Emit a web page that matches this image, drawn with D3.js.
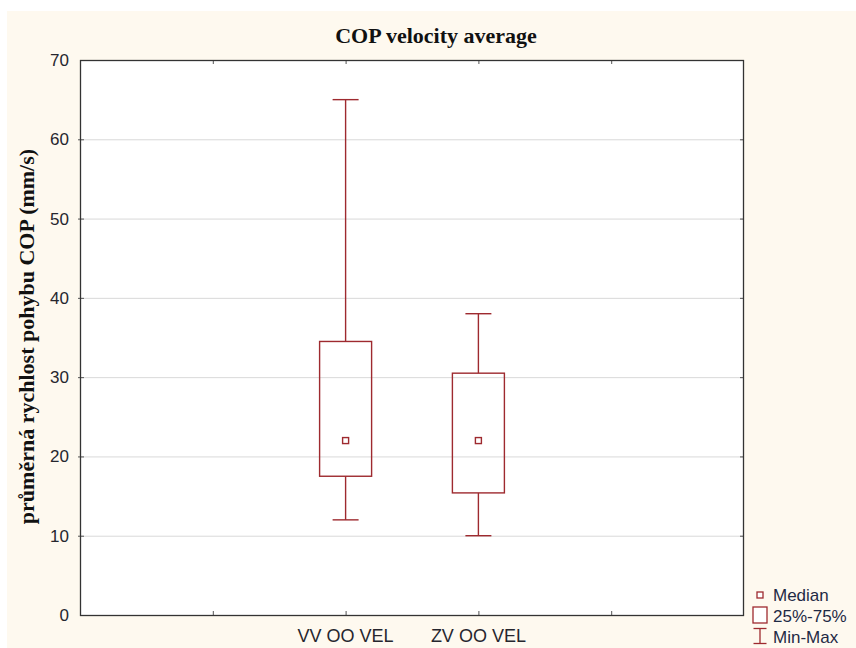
<!DOCTYPE html>
<html>
<head>
<meta charset="utf-8">
<script src="https://cdn.jsdelivr.net/npm/d3@7"></script>
<style>
  html, body { margin: 0; padding: 0; background: #ffffff; }
  svg { display: block; }
</style>
</head>
<body>
<svg id="chart" width="856" height="648"></svg>
<script>
// Box-plot data: one entry per variable
const categories = ["VV OO VEL", "ZV OO VEL"];
const minValues    = [12, 10];
const q1Values     = [17.5, 15.4];
const medianValues = [22, 22];
const q3Values     = [34.5, 30.5];
const maxValues    = [65, 38];
const yTicks = [0, 10, 20, 30, 40, 50, 60, 70];
const legendLabels = ["Median", "25%-75%", "Min-Max"];

const W = 856, H = 648;
const margin = { left: 80, right: 112, top: 60, bottom: 33 };
const plotL = margin.left, plotR = W - margin.right;
const plotT = margin.top, plotB = H - margin.bottom;

const markColor = "#9E2A2F";
const textColor = "#26262e";
const sans = "Liberation Sans, Arial, sans-serif";
const serif = "Liberation Serif, Times New Roman, serif";

const svg = d3.select("#chart");

// Panel background
svg.append("rect").attr("x", 7).attr("y", 11).attr("width", W - 7).attr("height", H - 11)
  .attr("fill", "#fef9ef");

// Plot area
svg.append("rect").attr("x", plotL).attr("y", plotT)
  .attr("width", plotR - plotL).attr("height", plotB - plotT).attr("fill", "#ffffff");

const y = d3.scaleLinear().domain([0, 70]).range([plotB, plotT]);
// Category positions: 5 equal slots, variables in the middle ones
const slots = d3.range(6);
const xs = d3.scalePoint().domain(slots).range([plotL, plotR]);
const catPos = i => xs(i + 2);

// Horizontal grid lines
svg.append("g").selectAll("line").data(yTicks.filter(v => v > 0 && v < 70)).join("line")
  .attr("x1", plotL).attr("x2", plotR)
  .attr("y1", d => y(d) + 0.5).attr("y2", d => y(d) + 0.5)
  .attr("stroke", "#d9d9d9").attr("stroke-width", 1);

// Y axis labels
const yAxis = d3.axisLeft(y).tickValues(yTicks).tickSize(0).tickPadding(11);
const gy = svg.append("g").attr("transform", `translate(${plotL},0)`).call(yAxis);
gy.select(".domain").remove();
gy.selectAll("text").attr("font-family", sans)
  .attr("font-size", 17).attr("fill", textColor);

// Small inward ticks on all four sides
const tickG = svg.append("g").attr("stroke", "#555").attr("stroke-width", 1);
yTicks.filter(v => v > 0 && v < 70).forEach(v => {
  tickG.append("line").attr("x1", plotL - 2).attr("x2", plotL + 4)
    .attr("y1", y(v) + 0.5).attr("y2", y(v) + 0.5);
  tickG.append("line").attr("x1", plotR - 4).attr("x2", plotR)
    .attr("y1", y(v) + 0.5).attr("y2", y(v) + 0.5);
});
[1, 2, 3, 4].forEach(s => {
  tickG.append("line").attr("x1", xs(s) + 0.5).attr("x2", xs(s) + 0.5)
    .attr("y1", plotT).attr("y2", plotT + 4);
  tickG.append("line").attr("x1", xs(s) + 0.5).attr("x2", xs(s) + 0.5)
    .attr("y1", plotB).attr("y2", plotB - 4);
});

// X category labels
svg.append("g").selectAll("text").data(categories).join("text")
  .attr("x", (d, i) => catPos(i)).attr("y", plotB + 27)
  .attr("text-anchor", "middle")
  .attr("font-family", sans).attr("font-size", 18)
  .attr("fill", textColor).text(d => d);

// Plot frame
svg.append("rect").attr("x", plotL + 0.5).attr("y", plotT + 0.5)
  .attr("width", plotR - plotL - 1).attr("height", plotB - plotT)
  .attr("fill", "none").attr("stroke", "#333").attr("stroke-width", 1.3);

// Boxes and whiskers
const boxW = 52, capW = 26;
const boxes = svg.append("g").attr("stroke", markColor).attr("stroke-width", 1.4).attr("fill", "none");
categories.forEach((c, i) => {
  const cx = catPos(i);
  const g = boxes.append("g");
  // upper whisker
  g.append("line").attr("x1", cx).attr("x2", cx).attr("y1", y(maxValues[i])).attr("y2", y(q3Values[i]));
  g.append("line").attr("x1", cx - capW / 2).attr("x2", cx + capW / 2)
    .attr("y1", y(maxValues[i])).attr("y2", y(maxValues[i]));
  // lower whisker
  g.append("line").attr("x1", cx).attr("x2", cx).attr("y1", y(q1Values[i])).attr("y2", y(minValues[i]));
  g.append("line").attr("x1", cx - capW / 2).attr("x2", cx + capW / 2)
    .attr("y1", y(minValues[i])).attr("y2", y(minValues[i]));
  // interquartile box
  g.append("rect").attr("x", cx - boxW / 2).attr("y", y(q3Values[i]))
    .attr("width", boxW).attr("height", y(q1Values[i]) - y(q3Values[i]));
  // median marker
  g.append("rect").attr("x", cx - 3).attr("y", y(medianValues[i]) - 3)
    .attr("width", 6).attr("height", 6);
});

// Title
svg.append("text").attr("x", 436).attr("y", 43)
  .attr("text-anchor", "middle")
  .attr("font-family", serif)
  .attr("font-weight", "bold").attr("font-size", 22).attr("fill", "#111")
  .text("COP velocity average");

// Y axis title
svg.append("text").attr("transform", `translate(34,${(plotT + plotB) / 2 - 1}) rotate(-90)`)
  .attr("text-anchor", "middle")
  .attr("font-family", serif)
  .attr("font-weight", "bold").attr("font-size", 22).attr("fill", "#111")
  .text("průměrná rychlost pohybu COP (mm/s)");

// Legend
const lg = svg.append("g").attr("stroke", markColor).attr("stroke-width", 1.3);
const lx = 760;
lg.append("rect").attr("x", lx - 3).attr("y", 592).attr("width", 6).attr("height", 6)
  .attr("fill", "#fff");
lg.append("rect").attr("x", lx - 7).attr("y", 607).attr("width", 14).attr("height", 16)
  .attr("fill", "#fff");
lg.append("line").attr("x1", lx).attr("x2", lx).attr("y1", 628).attr("y2", 643.5);
lg.append("line").attr("x1", lx - 6.5).attr("x2", lx + 6.5).attr("y1", 628.5).attr("y2", 628.5);
lg.append("line").attr("x1", lx - 6.5).attr("x2", lx + 6.5).attr("y1", 643.5).attr("y2", 643.5);
svg.append("g").selectAll("text").data(legendLabels).join("text")
  .attr("x", 773).attr("y", (d, i) => 601 + i * 21)
  .attr("font-family", sans).attr("font-size", 17)
  .attr("fill", "#1e2a45").text(d => d);
</script>
</body>
</html>
